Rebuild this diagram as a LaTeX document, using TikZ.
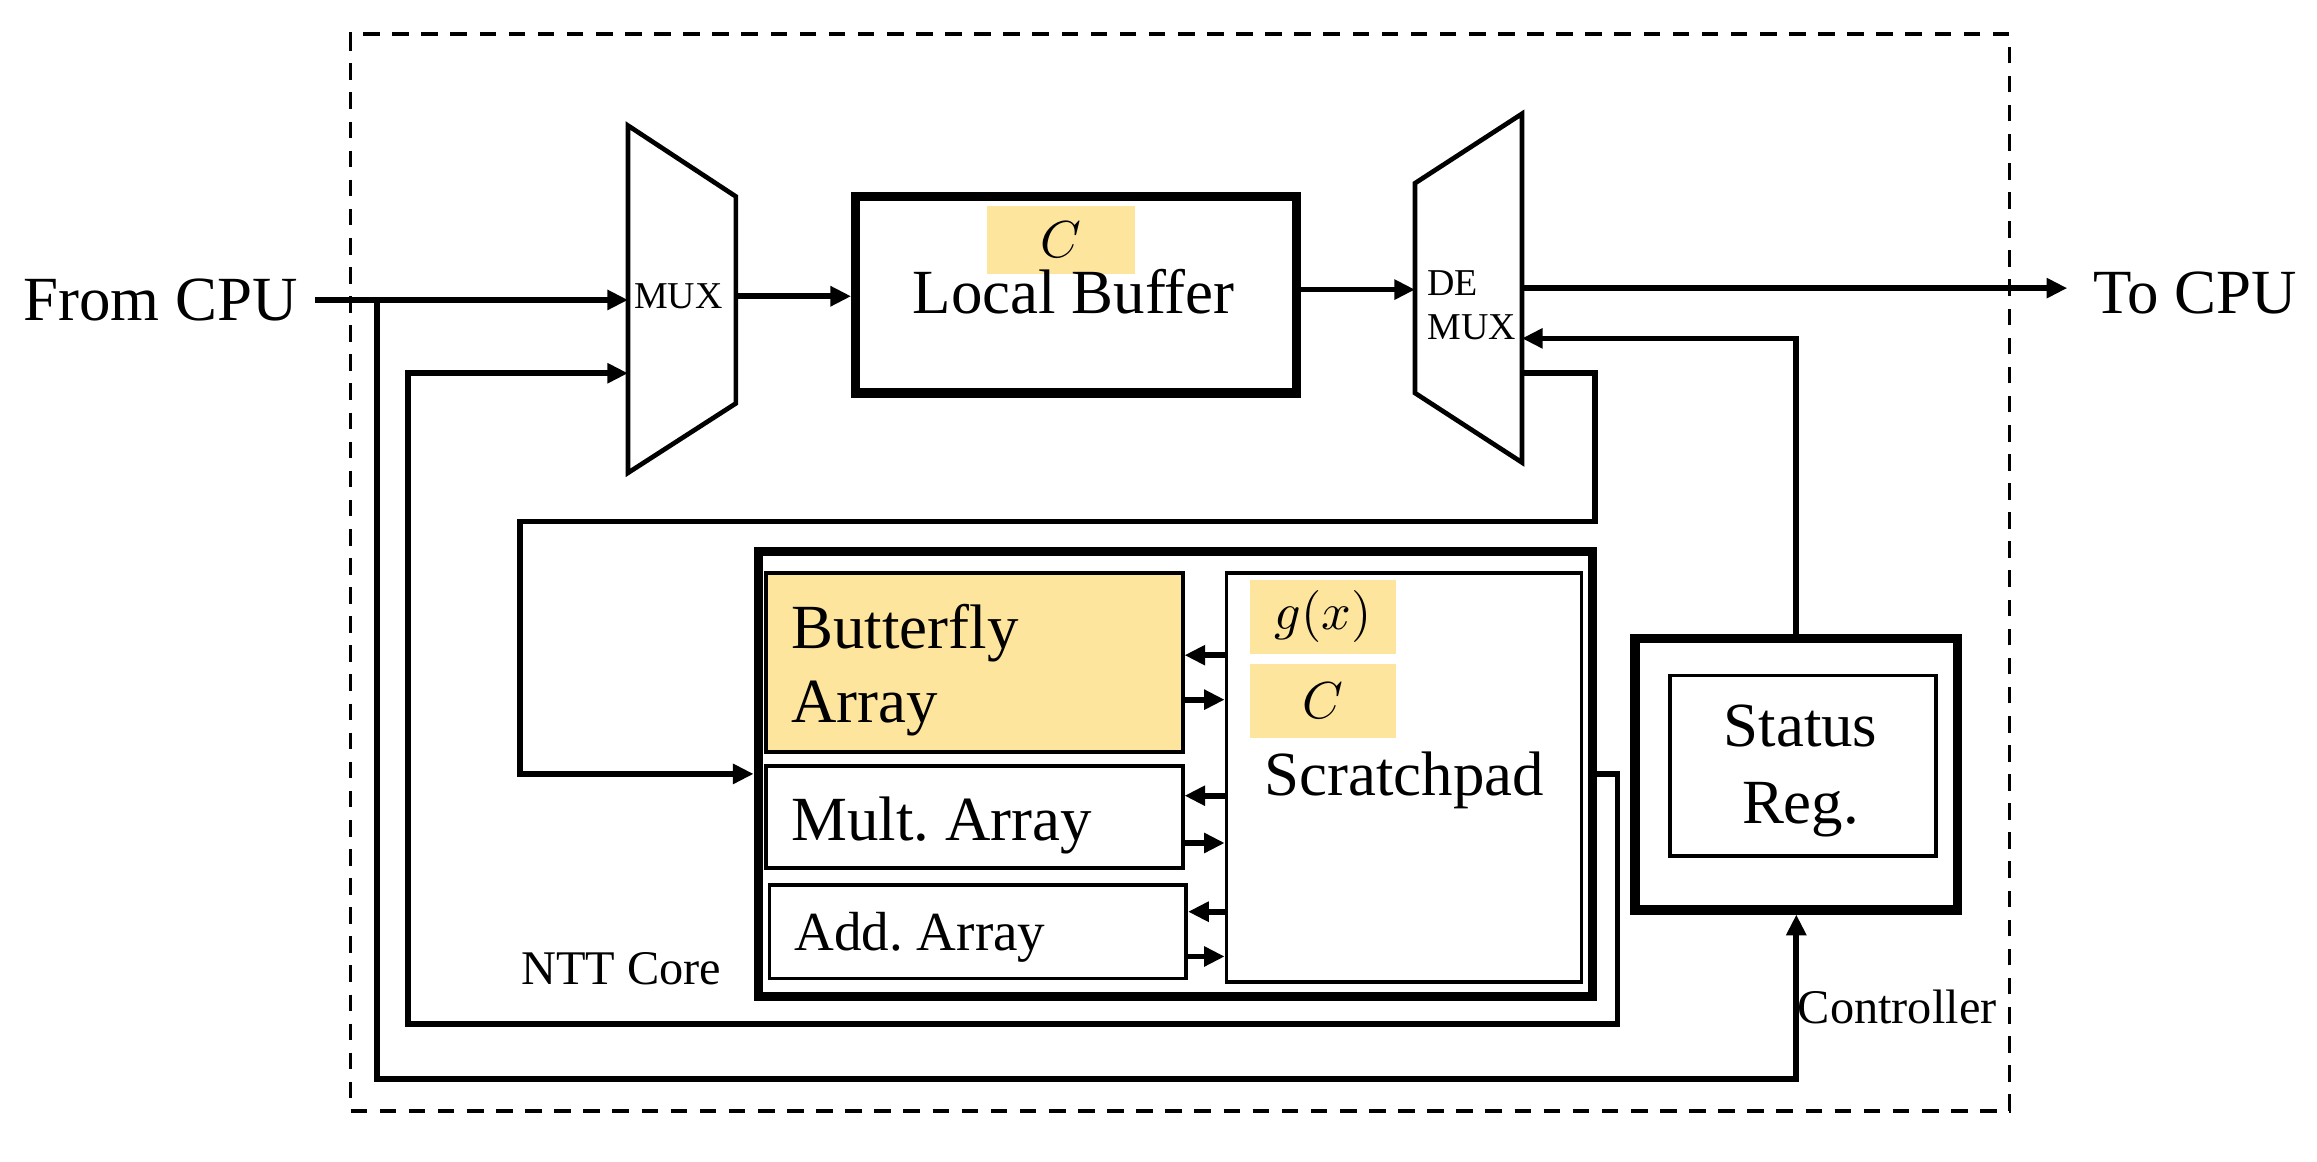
\documentclass[tikz,border=0pt]{standalone}
\usepackage{fontspec}
\setmainfont{Liberation Serif}
\usetikzlibrary{arrows.meta,calc}
\definecolor{gold}{RGB}{254,229,158}
\newcommand\fsz[2]{\fontsize{#1}{#2}\selectfont}
\frenchspacing
\begin{document}
\begin{tikzpicture}[x=0.01cm,y=-0.01cm,
  conn/.style={line width=1.1pt,-{Triangle[length=0.14cm,width=0.13cm]}},
  thickbox/.style={draw,line width=1.8pt,inner sep=0,anchor=north west},
  thinbox/.style={draw,line width=0.7pt,inner sep=0,anchor=north west},
  goldbox/.style={fill=gold,inner sep=0,anchor=north west},
  lbl/.style={inner sep=0,anchor=base west},
  clbl/.style={inner sep=0,anchor=base},
  big/.style={font=\fsz{12.1}{14}},
  small/.style={font=\fsz{9.3}{11}},
  tiny/.style={font=\fsz{7.3}{8}},
  muxshape/.style={line width=0.9pt},
]
\useasboundingbox (0,0) rectangle (1568,786);

% controller frame
\node[draw,line width=0.7pt,dash pattern=on 3.2pt off 2.4pt,inner sep=0,anchor=north west,
      minimum width=11.22cm,minimum height=7.28cm] (frame) at (236,22) {};

% MUX and DEMUX
\draw[muxshape] (425,85) -- (498,133) -- (498,273) -- (425,320) -- cycle;
\draw[muxshape] (957.6,124) -- (1030,77) -- (1030,313) -- (957.6,266) -- cycle;
\node[lbl,tiny] (muxl) at (428.5,208.6) {MUX};
\node[lbl,tiny] (dml1) at (965.4,199.7) {DE};
\node[lbl,tiny] (dml2) at (965.4,230) {MUX};

\coordinate (muxin1) at (425,203);
\coordinate (muxin2) at (425,252.6);
\coordinate (muxout) at (498,200.5);
\coordinate (dmxin) at (957.6,196);
\coordinate (dmxout) at (1030,195);
\coordinate (dmxfb) at (1030,229);
\coordinate (dmxout2) at (1030,252.5);
\coordinate (fcout) at (213,203);
\coordinate (split) at (255,203);
\coordinate (tocpu) at (1399,195);

% Local buffer
\node[thickbox,minimum width=2.98cm,minimum height=1.33cm] (lb) at (576,129.7) {};
\node[goldbox,minimum width=1.0cm,minimum height=0.46cm,font=\fsz{10}{12}] (lbc) at (667,138.8) {$C$};
\node[lbl,big] (lbt) at (617,212) {Local Buffer};

% NTT core
\node[thickbox,minimum width=5.64cm,minimum height=3.01cm] (ntt) at (510,370) {};
\node[thinbox,fill=gold,minimum width=2.82cm,minimum height=1.21cm] (bf) at (517,386.5) {};
\node[thinbox,minimum width=2.82cm,minimum height=0.69cm] (mu) at (517,517) {};
\node[thinbox,minimum width=2.82cm,minimum height=0.634cm] (ad) at (519.4,597.6) {};
\node[thinbox,minimum width=2.40cm,minimum height=2.765cm] (sp) at (828.8,386.5) {};
\node[goldbox,minimum width=0.99cm,minimum height=0.50cm,font=\fsz{10}{12}] (gx) at (845,391.8) {$g(x)$};
\node[goldbox,minimum width=0.99cm,minimum height=0.50cm,font=\fsz{10}{12}] (spc) at (845,448.7) {$C$};

\node[lbl,big] (bft1) at (535,438.6) {Butterfly};
\node[lbl,big] (bft2) at (535,489) {Array};
\node[lbl,big] (mut) at (535,568.6) {Mult. Array};
\node[lbl,font=\fsz{10.6}{12}] (adt) at (537,643) {Add. Array};
\node[lbl,big] (spt) at (855,538.6) {Scratchpad};
\node[lbl,small] (nttl) at (352,666) {NTT Core};

% Status register
\node[thickbox,minimum width=2.18cm,minimum height=1.835cm] (sro) at (1103.4,429) {};
\node[thinbox,minimum width=1.80cm,minimum height=1.22cm] (sri) at (1129,456) {};
\node[clbl,big] (st1) at (1218.5,505.5) {Status};
\node[clbl,big] (st2) at (1218.5,557.6) {Reg.};
\node[lbl,small] (ctl) at (1216,692.8) {Controller};

% external labels
\node[lbl,big] (fc) at (15,217) {From CPU};
\node[lbl,big] (tc) at (1416,212) {To CPU};

% connectors
\draw[conn] (fcout) -- (muxin1);
\draw[conn] (split) -- (255,730) -| (sro.south);
\draw[conn] (muxout) -- (lb.west |- muxout);
\draw[conn] (lb.east |- dmxin) -- (dmxin);
\draw[conn] (dmxout) -- (tocpu);
\draw[conn] (sro.north) |- (dmxfb);
\draw[conn] (dmxout2) -| (1079.6,353) -- (352,353) |- (ntt.west);
\draw[conn] (ntt.east) -- ++(14,0) |- (276,692.8) |- (muxin2);

\draw[conn] (sp.west |- 0,443.4) -- (bf.east |- 0,443.4);
\draw[conn] (bf.east |- 0,473.5) -- (sp.west |- 0,473.5);
\draw[conn] (sp.west |- 0,538.5) -- (mu.east |- 0,538.5);
\draw[conn] (mu.east |- 0,570.5) -- (sp.west |- 0,570.5);
\draw[conn] (sp.west |- 0,617) -- (ad.east |- 0,617);
\draw[conn] (ad.east |- 0,647.3) -- (sp.west |- 0,647.3);
\end{tikzpicture}
\end{document}
